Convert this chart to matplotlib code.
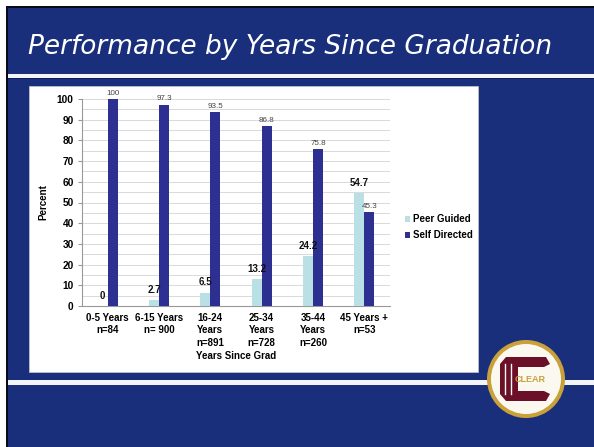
import matplotlib
matplotlib.use("Agg")
import matplotlib.pyplot as plt
import numpy as np
from matplotlib.patches import Rectangle, Circle, Polygon

groups = ["0-5 Years\nn=84", "6-15 Years\nn= 900", "16-24\nYears\nn=891",
          "25-34\nYears\nn=728", "35-44\nYears\nn=260", "45 Years +\nn=53"]
peer_guided = [0, 2.7, 6.5, 13.2, 24.2, 54.7]
self_directed = [100, 97.3, 93.5, 86.8, 75.8, 45.3]
series_names = ["Peer Guided", "Self Directed"]

W, H = 594, 447
slide_blue = "#1a2f7c"
peer_color = "#b9e0e4"
self_color = "#2d2f91"
chart_font = "Liberation Sans"

fig = plt.figure(figsize=(W / 100, H / 100), dpi=100)
fig.patch.set_facecolor("white")

# slide background drawn in pixel coordinates
bg = fig.add_axes([0, 0, 1, 1])
bg.set_xlim(0, W)
bg.set_ylim(H, 0)
bg.axis("off")
bg.add_patch(Rectangle((6, 6), W - 6, H - 6, facecolor="#0a0a1a", edgecolor="none"))
bg.add_patch(Rectangle((8, 8), W - 8, H - 8, facecolor=slide_blue, edgecolor="none"))
bg.text(28, 47, "Performance by Years Since Graduation", color="white",
        fontsize=19, fontstyle="italic", va="center", ha="left",
        family="DejaVu Sans")
bg.add_patch(Rectangle((8, 74), W - 8, 4, facecolor="#f2f4f8", edgecolor="none"))
bg.add_patch(Rectangle((8, 78), W - 8, 1.2, facecolor="#0c1c55", edgecolor="none"))
bg.add_patch(Rectangle((29, 86), 449, 286, facecolor="white", edgecolor="#c8c8c8",
                       linewidth=0.5))
bg.add_patch(Rectangle((8, 380), W - 8, 5, facecolor="#f2f4f8", edgecolor="none"))

# CLEAR logo
cx, cy = 526, 379
bg.add_patch(Circle((cx, cy), 39, facecolor="#c9a13a", edgecolor="none"))
bg.add_patch(Circle((cx, cy), 35, facecolor="#fbf8ef", edgecolor="none"))
maroon = "#6b1028"
c_shape = [(cx - 20, cy - 22), (cx + 20, cy - 22), (cx + 24, cy - 15), (cx + 18, cy - 12),
           (cx - 8, cy - 12), (cx - 8, cy + 12), (cx + 18, cy + 12), (cx + 24, cy + 15),
           (cx + 20, cy + 22), (cx - 20, cy + 22), (cx - 26, cy + 15), (cx - 26, cy - 15)]
bg.add_patch(Polygon(c_shape, closed=True, facecolor=maroon, edgecolor="none"))
for dx in (-21, -15):
    bg.plot([cx + dx, cx + dx], [cy - 15, cy + 15], color="#fbf8ef", linewidth=1.0)
bg.text(cx + 4, cy + 1, "CLEAR", color="#c9a13a", fontsize=6.5, fontweight="bold",
        ha="center", va="center", family=chart_font)

# bar chart
ax = fig.add_axes([82 / W, 1 - 306 / H, 308 / W, 207 / H])
x = np.arange(len(groups))
bw = 0.195
ax.bar(x - bw / 2, peer_guided, bw, color=peer_color, label=series_names[0], zorder=3)
ax.bar(x + bw / 2, self_directed, bw, color=self_color, label=series_names[1], zorder=3)

for xi, v in zip(x, peer_guided):
    ax.text(xi - bw / 2, v + 2.5, f"{v:g}", ha="center", va="bottom", fontsize=7,
            fontweight="bold", color="#111111", zorder=4, family=chart_font)
for xi, v in zip(x, self_directed):
    ax.text(xi + bw / 2, v + 1.2, f"{v:g}", ha="center", va="bottom", fontsize=5.8,
            color="#444444", zorder=4, family=chart_font)

ax.set_xlim(-0.5, len(groups) - 0.5)
ax.set_ylim(0, 100)
ax.set_yticks(np.arange(0, 101, 10))
ax.set_yticks(np.arange(0, 101, 5), minor=True)
ax.grid(axis="y", which="both", color="#d9d9d9", linewidth=0.7, zorder=0)
ax.set_xticks(x)
ax.set_xticklabels(groups, fontsize=7, fontweight="bold", linespacing=1.3,
                   family=chart_font)
ax.tick_params(axis="x", length=0, pad=5)
ax.tick_params(axis="y", which="major", length=3, color="#999999", labelsize=7.3, pad=3)
ax.tick_params(axis="y", which="minor", length=0)
for lbl in ax.get_yticklabels():
    lbl.set_fontweight("bold")
    lbl.set_family(chart_font)
for side in ("top", "right"):
    ax.spines[side].set_visible(False)
for side in ("left", "bottom"):
    ax.spines[side].set_color("#999999")
    ax.spines[side].set_linewidth(0.8)
ax.set_ylabel("Percent", fontsize=7, fontweight="bold", labelpad=6, family=chart_font)
ax.set_xlabel("Years Since Grad", fontsize=7, fontweight="bold", labelpad=2,
              family=chart_font)

ax.legend(loc="center left", bbox_to_anchor=(1.02, 0.38), frameon=False,
          prop={"size": 7, "weight": "bold", "family": chart_font},
          handlelength=0.5, handleheight=0.5, handletextpad=0.3, labelspacing=0.6)

fig.savefig("out.png", dpi=100, facecolor=fig.get_facecolor())
